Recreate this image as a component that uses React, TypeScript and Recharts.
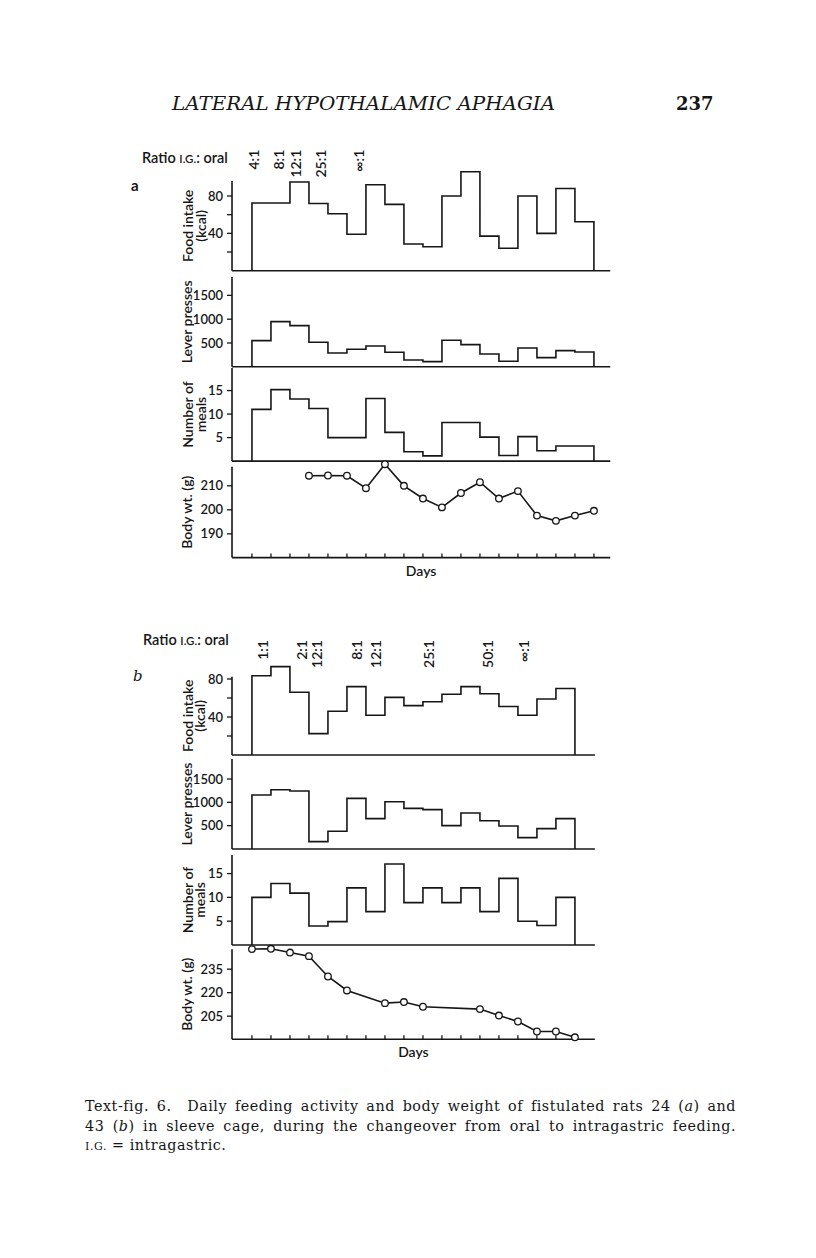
import { LineChart, Line, XAxis, YAxis, ReferenceLine, ReferenceDot } from "recharts";

const SANS = "Lato, 'Open Sans', sans-serif";
const SERIF = "'DejaVu Serif', serif";
const INK = "#161616";
const WEIGHT = 600;

// ---- rat 24 (a): 18 days ----
const foodA = [72.5, 72.5, 95, 72, 61, 39, 92, 71, 28.6, 25.7, 80, 106, 37, 24, 80, 40, 88, 52.5];
const leverA = [549, 948, 864, 514, 290, 367, 437, 304, 143, 108, 556, 465, 269, 115, 395, 192, 339, 311];
const mealsA = [11, 15.2, 13.2, 11.2, 5, 5, 13.3, 6.1, 2, 1.1, 8.2, 8.2, 5.1, 1.2, 5.2, 2.2, 3.2, 3.2];
const weightDaysA = [3, 4, 5, 6, 7, 8, 9, 10, 11, 12, 13, 14, 15, 16, 17, 18];
const weightA = [214.2, 214.3, 214.2, 209, 219, 210, 204.7, 201, 207, 211.5, 204.7, 207.8, 197.6, 195.4, 197.6, 199.6];
const ratioLabelsA = ["4:1", "8:1", "12:1", "25:1", "∞:1"];
const ratioDaysA = [0.1, 1.4, 2.3, 3.6, 5.6];
const dayTicksA = [0, 1, 2, 3, 4, 5, 6, 7, 8, 9, 10, 11, 12, 13, 14, 15, 16, 17, 18];

// ---- rat 43 (b): 17 days ----
const foodB = [83.5, 93, 66, 22.5, 46, 72, 41.8, 60.7, 52, 56, 64, 72, 64.5, 51, 41.8, 59, 70];
const leverB = [1157, 1271, 1243, 157, 379, 1086, 650, 1014, 871, 843, 500, 771, 607, 493, 243, 436, 650];
const mealsB = [10, 12.9, 10.9, 4, 4.9, 12, 7, 17, 8.9, 12, 8.9, 12, 7, 14, 5, 4.1, 10];
const weightDaysB = [0, 1, 2, 3, 4, 5, 7, 8, 9, 12, 13, 14, 15, 16, 17];
const weightB = [247.8, 248, 245.6, 243.3, 230.3, 221.4, 213.3, 214, 211, 209.5, 205.4, 201.6, 195.2, 195.2, 191.5];
const ratioLabelsB = ["1:1", "2:1", "12:1", "8:1", "12:1", "25:1", "50:1", "∞:1"];
const ratioDaysB = [0.55, 2.6, 3.4, 5.5, 6.5, 9.3, 12.4, 14.3];
const dayTicksB = [0, 1, 2, 3, 4, 5, 6, 7, 8, 9, 10, 11, 12, 13, 14, 15, 16, 17];

// y ticks
const foodTicks = [20, 40, 60, 80];
const foodLabelled = [40, 80];
const leverTicks = [500, 1000, 1500];
const mealTicks = [5, 10, 15];
const weightTicksA = [190, 200, 210];
const weightTicksB = [205, 220, 235];

// layout (page px)
const LEFT = 160;
const AXIS_W = 72;
const DAY_PX = 19;
const X_LO = -1.05;

type Frame = { top: number; bottom: number; lo: number; hi: number; axisTop: number };

const frames: Record<string, Frame> = {
  foodA: { top: 168.3, bottom: 271, lo: 0, hi: 110, axisTop: 96 },
  leverA: { top: 276.7, bottom: 366.5, lo: 0, hi: 1886, axisTop: 1886 },
  mealsA: { top: 368.3, bottom: 461.4, lo: 0, hi: 19.8, axisTop: 19.8 },
  weightA: { top: 462.7, bottom: 557.3, lo: 180.1, hi: 219.5, axisTop: 217.9 },
  foodB: { top: 660, bottom: 755, lo: 0, hi: 100, axisTop: 82.5 },
  leverB: { top: 759.3, bottom: 849.3, lo: 0, hi: 1929, axisTop: 1929 },
  mealsB: { top: 855, bottom: 945, lo: 0, hi: 18.9, axisTop: 18.9 },
  weightB: { top: 948.1, bottom: 1039.3, lo: 190.3, hi: 248.5, axisTop: 247.7 },
};

type Row = { day: number; v: number };

// daily values -> closed step outline (up at first day, down after last)
const stepRows = (vals: number[]): Row[] => {
  const rows: Row[] = [{ day: 0, v: 0 }];
  vals.forEach((v, i) => rows.push({ day: i, v }));
  rows.push({ day: vals.length, v: vals[vals.length - 1] });
  rows.push({ day: vals.length, v: 0 });
  return rows;
};

const pointRows = (days: number[], vals: number[]): Row[] => days.map((d, i) => ({ day: d, v: vals[i] }));

const AxisTitle = ({ vb, lines, mid }: { vb: any; lines: string[]; mid: number }) => {
  const cy = vb.y + vb.height * (1 - mid);
  const xs = lines.length > 1 ? [27.5, 40] : [26.5];
  return (
    <g>
      {lines.map((l, i) => (
        <text
          key={i}
          x={vb.x + xs[i]}
          y={cy}
          transform={`rotate(-90 ${vb.x + xs[i]} ${cy})`}
          textAnchor="middle"
          dominantBaseline="central"
          fontFamily={SANS}
          fontWeight={WEIGHT}
          fontSize={14}
          fill={INK}
        >
          {l}
        </text>
      ))}
    </g>
  );
};

interface PanelProps {
  frame: Frame;
  xHi: number;
  rows: Row[];
  ticks: number[];
  labelled?: number[];
  title: string[];
  weight?: boolean;
  dayTicks?: number[];
  ratio?: { labels: string[]; days: number[]; at: number };
}

const Panel = ({ frame, xHi, rows, ticks, labelled, title, weight, dayTicks, ratio }: PanelProps) => {
  const plotW = (xHi - X_LO) * DAY_PX;
  const plotH = frame.bottom - frame.top;
  const axisH = weight ? 26 : 2;
  const show = labelled ?? ticks;
  const mid = (frame.axisTop - frame.lo) / (frame.hi - frame.lo) / 2;

  return (
    <div style={{ position: "absolute", left: LEFT, top: frame.top }}>
      <LineChart
        width={AXIS_W + plotW}
        height={plotH + axisH}
        data={rows}
        margin={{ top: 0, right: 0, bottom: 0, left: 0 }}
      >
        <XAxis
          type="number"
          dataKey="day"
          domain={[X_LO, xHi]}
          height={axisH}
          axisLine={{ stroke: INK, strokeWidth: 1.6 }}
          ticks={dayTicks}
          interval={0}
          tick={weight ? () => null : false}
          tickLine={weight ? { stroke: INK, strokeWidth: 1.3 } : false}
          tickSize={-4}
          label={
            weight
              ? {
                  content: (p: any) => (
                    <text
                      x={p.viewBox.x + p.viewBox.width / 2}
                      y={p.viewBox.y + 18}
                      textAnchor="middle"
                      fontFamily={SANS}
                      fontWeight={WEIGHT}
                      fontSize={14}
                      fill={INK}
                    >
                      Days
                    </text>
                  ),
                }
              : undefined
          }
        />
        <YAxis
          type="number"
          domain={[frame.lo, frame.hi]}
          ticks={ticks}
          interval={0}
          width={AXIS_W}
          axisLine={false}
          tickLine={{ stroke: INK, strokeWidth: 1.3 }}
          tickSize={5}
          tickMargin={4}
          tick={{ fill: INK, fontSize: 13, fontFamily: SANS, fontWeight: WEIGHT }}
          tickFormatter={(v: number) => (show.includes(v) ? String(v) : "")}
          label={{ content: (p: any) => <AxisTitle vb={p.viewBox} lines={title} mid={mid} /> }}
        />
        <ReferenceLine
          segment={[
            { x: X_LO, y: frame.lo },
            { x: X_LO, y: frame.axisTop },
          ]}
          stroke={INK}
          strokeWidth={1.6}
          ifOverflow="visible"
        />
        {ratio &&
          ratio.labels.map((t, i) => (
            <ReferenceDot
              key={i}
              x={ratio.days[i]}
              y={ratio.at}
              r={0}
              ifOverflow="visible"
              shape={(p: any) => (
                <text
                  x={p.cx}
                  y={p.cy}
                  transform={`rotate(-90 ${p.cx} ${p.cy})`}
                  textAnchor="end"
                  dominantBaseline="central"
                  fontFamily={SANS}
                  fontWeight={WEIGHT}
                  fontSize={14}
                  fill={INK}
                >
                  {t}
                </text>
              )}
            />
          ))}
        <Line
          dataKey="v"
          type={weight ? "linear" : "stepAfter"}
          stroke={INK}
          strokeWidth={1.6}
          dot={weight ? { r: 3.3, fill: "#fff", stroke: INK, strokeWidth: 1.3 } : false}
          isAnimationActive={false}
        />
      </LineChart>
    </div>
  );
};

const capLine = (top: number, justify: boolean): React.CSSProperties => ({
  position: "absolute",
  left: 85,
  top,
  width: 651,
  fontFamily: SERIF,
  fontSize: 14.3,
  letterSpacing: 0.55,
  lineHeight: "19px",
  color: INK,
  textAlign: justify ? "justify" : "left",
  textAlignLast: justify ? "justify" : "left",
  whiteSpace: "nowrap",
});

const PageText = () => (
  <>
    <svg width={816} height={1258} style={{ position: "absolute", left: 0, top: 0, pointerEvents: "none" }}>
      <text x={172} y={110} fontFamily={SERIF} fontStyle="italic" fontSize={19} textLength={383} lengthAdjust="spacingAndGlyphs" fill={INK}>
        LATERAL HYPOTHALAMIC APHAGIA
      </text>
      <text x={676} y={110} fontFamily={SERIF} fontWeight="bold" fontSize={18} fill={INK}>
        237
      </text>

      <text x={142} y={163} fontFamily={SANS} fontWeight={WEIGHT} fontSize={14.5} fill={INK}>
        Ratio <tspan fontSize={11.5}>I.G.</tspan>: oral
      </text>
      <text x={131} y={191} fontFamily={SANS} fontWeight="bold" fontSize={15} fill={INK}>
        a
      </text>

      <text x={143} y={645} fontFamily={SANS} fontWeight={WEIGHT} fontSize={14.5} fill={INK}>
        Ratio <tspan fontSize={11.5}>I.G.</tspan>: oral
      </text>
      <text x={133} y={681} fontFamily={SERIF} fontStyle="italic" fontSize={15} fill={INK}>
        b
      </text>
    </svg>
    <div style={capLine(1097, true)}>
      Text-fig. 6.&nbsp; Daily feeding activity and body weight of fistulated rats 24 (<i>a</i>) and
    </div>
    <div style={capLine(1116.5, true)}>
      43 (<i>b</i>) in sleeve cage, during the changeover from oral to intragastric feeding.
    </div>
    <div style={capLine(1136, false)}>
      <span style={{ fontSize: 11 }}>I.G.</span> = intragastric.
    </div>
  </>
);

const App = () => (
  <div style={{ position: "absolute", left: 0, top: 0, width: 816, height: 1258, background: "#fff" }}>
    <style>{`.recharts-surface{overflow:visible}`}</style>
    <Panel
      frame={frames.foodA}
      xHi={18.86}
      rows={stepRows(foodA)}
      ticks={foodTicks}
      labelled={foodLabelled}
      title={["Food intake", "(kcal)"]}
      ratio={{ labels: ratioLabelsA, days: ratioDaysA, at: 129.6 }}
    />
    <Panel frame={frames.leverA} xHi={18.86} rows={stepRows(leverA)} ticks={leverTicks} title={["Lever presses"]} />
    <Panel frame={frames.mealsA} xHi={18.86} rows={stepRows(mealsA)} ticks={mealTicks} title={["Number of", "meals"]} />
    <Panel
      frame={frames.weightA}
      xHi={18.86}
      rows={pointRows(weightDaysA, weightA)}
      ticks={weightTicksA}
      title={["Body wt. (g)"]}
      weight
      dayTicks={dayTicksA}
    />

    <Panel
      frame={frames.foodB}
      xHi={18.05}
      rows={stepRows(foodB)}
      ticks={foodTicks}
      labelled={foodLabelled}
      title={["Food intake", "(kcal)"]}
      ratio={{ labels: ratioLabelsB, days: ratioDaysB, at: 121 }}
    />
    <Panel frame={frames.leverB} xHi={18.05} rows={stepRows(leverB)} ticks={leverTicks} title={["Lever presses"]} />
    <Panel frame={frames.mealsB} xHi={18.05} rows={stepRows(mealsB)} ticks={mealTicks} title={["Number of", "meals"]} />
    <Panel
      frame={frames.weightB}
      xHi={18.05}
      rows={pointRows(weightDaysB, weightB)}
      ticks={weightTicksB}
      title={["Body wt. (g)"]}
      weight
      dayTicks={dayTicksB}
    />

    <PageText />
  </div>
);

export default App;
